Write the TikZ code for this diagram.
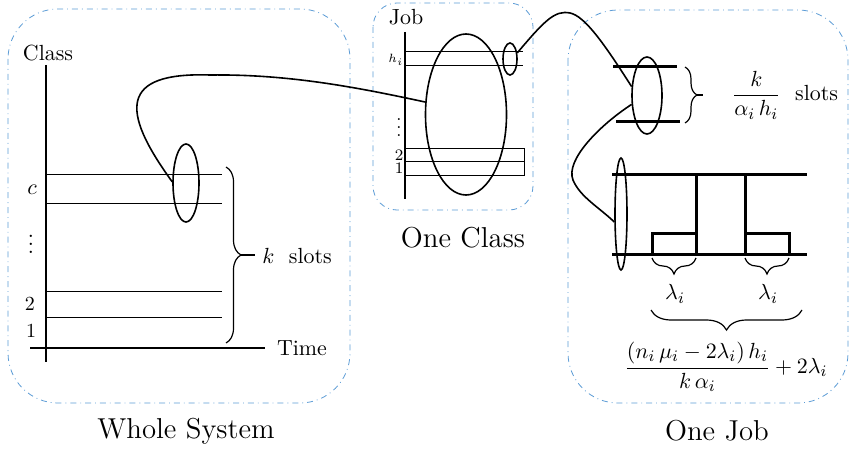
\documentclass[tikz,border=0pt,11pt]{standalone}
\usepackage{amsmath}
\usetikzlibrary{shapes.geometric,decorations.pathreplacing}
\definecolor{frameblue}{RGB}{91,155,213}

\begin{document}
\begin{tikzpicture}[x=0.5pt,y=-0.5pt,
    frame/.style={draw=frameblue,dash dot,line width=0.4pt},
    axis/.style={line width=1.3pt},
    slot/.style={line width=0.5pt},
    bar/.style={line width=1.5pt},
    ring/.style={draw,ellipse,thick,inner sep=0pt},
    link/.style={thick},
    brc/.style={decorate,decoration={brace,amplitude=#1},line width=0.6pt}]
  \useasboundingbox (0,0) rectangle (851,449);

  % whole system
  \draw[frame,rounded corners=25pt] (8,9) rectangle (350,403);
  \draw[axis] (46,65) -- (46,362);
  \draw[axis] (30,348) -- (265,348);
  \foreach \y in {174,203,291,317}
    \draw[slot] (46,\y) -- (222,\y);
  \node (clsLbl) at (48,53) {Class};
  \node (timeLbl) at (302,348) {Time};
  \node (cLbl) at (32,190) {$c$};
  \node[inner sep=0pt] (dotsA) at (31,238) {$\vdots$};
  \node (twoA) at (30,304) {\small 2};
  \node (oneA) at (31,331) {\small 1};
  \node[ring,minimum width=13pt,minimum height=39pt] (ellSys) at (186,183) {};
  \draw[brc=7.5pt] (226,167) -- (226,343);
  \draw[line width=0.6pt] (241,255) -- (255,255);
  \node (slotsA) at (297,256) {$k$~~slots};
  \node (capSys) at (186,431) {\Large Whole System};

  % one class
  \draw[frame,rounded corners=12pt] (373,3) rectangle (533,210);
  \draw[axis] (405,32) -- (405,199);
  \draw[slot] (405,52) -- (523,52);
  \draw[slot] (405,66) -- (523,66);
  \draw[slot] (405,148) rectangle (524,175);
  \draw[slot] (405,161) -- (524,161);
  \node (jobLbl) at (406,17) {Job};
  \node (hLbl) at (396,60) {\tiny $h_i$};
  \node[inner sep=0pt] (dotsB) at (399,122) {\footnotesize $\vdots$};
  \node (twoB) at (399,155) {\scriptsize 2};
  \node (oneB) at (399,168) {\scriptsize 1};
  \node[ring,minimum width=40.5pt,minimum height=80.5pt] (ellClass) at (466,114.5) {};
  \node[ring,minimum width=7pt,minimum height=16pt] (slotC) at (510,59) {};
  \node (capClass) at (463,238) {\Large One Class};

  % one job
  \draw[frame,rounded corners=25pt] (568,10) rectangle (848,403);
  \draw[bar] (613,67) -- (677,67);
  \draw[bar] (616,122) -- (680,122);
  \node[ring,minimum width=15pt,minimum height=38.5pt] (ellJobSlot) at (647,95.5) {};
  \draw[brc=6pt] (685,67) -- (685,123);
  \draw[line width=0.6pt] (697,95) -- (703,95);
  \node (slotsB) at (785,95) {$\dfrac{k}{\alpha_i\,h_i}$~~slots};
  \draw[bar] (612,174) -- (807,174);
  \draw[bar] (612,254) -- (807,254);
  \draw[bar] (696,174) -- (696,254);
  \draw[bar] (745,174) -- (745,254);
  \draw[bar] (652,254) -- (652,233) -- (696,233);
  \draw[bar] (745,233) -- (789,233) -- (789,254);
  \node[ring,minimum width=6pt,minimum height=56pt] (ellJob) at (621,214) {};
  \draw[brc=8pt] (696,258) -- (652,258);
  \draw[brc=8pt] (789,258) -- (745,258);
  \node (lamA) at (675,294) {$\lambda_i$};
  \node (lamB) at (768,294) {$\lambda_i$};
  \draw[brc=10pt] (802,310) -- (651,310);
  \node (total) at (726,367) {$\dfrac{(n_i\,\mu_i-2\lambda_i)\,h_i}{k\,\alpha_i}+2\lambda_i$};
  \node (capJob) at (717,431) {\Large One Job};

  % links
  \draw[link] (ellSys.175) .. controls (120,110) and (120,72) .. (210,75)
    .. controls (290,74) and (360,88) .. (ellClass.163);
  \draw[link] (slotC.40) .. controls (545,20) and (555,10) .. (570,13)
    .. controls (585,16) and (605,45) .. (ellJobSlot.150);
  \draw[link] (ellJobSlot.210) .. controls (600,125) and (565,160) .. (573,180)
    .. controls (580,197) and (600,208) .. (ellJob.230);
\end{tikzpicture}
\end{document}
